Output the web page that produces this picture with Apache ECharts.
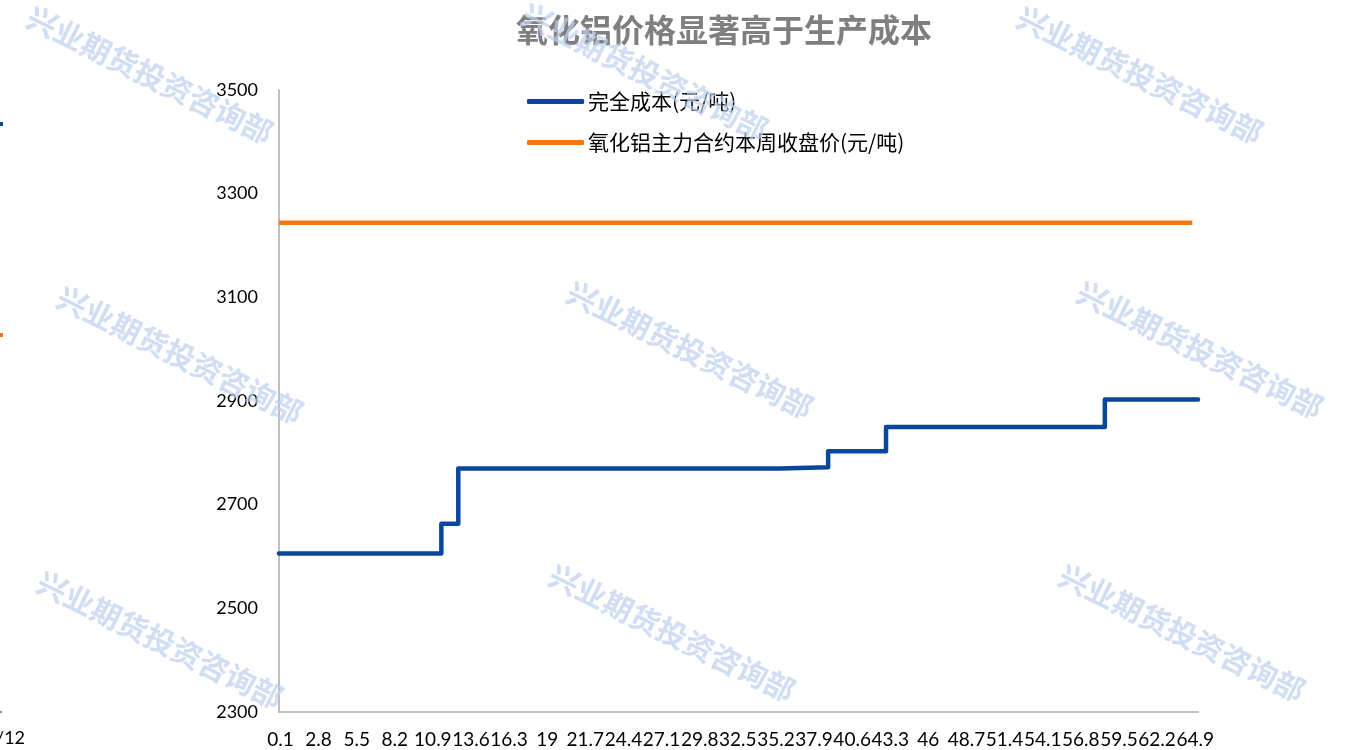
<!DOCTYPE html>
<html>
<head>
<meta charset="utf-8">
<script src="https://cdn.jsdelivr.net/npm/echarts@6/dist/echarts.min.js"></script>
<style>
html,body{margin:0;padding:0;background:#fff;}
#c{width:1347px;height:750px;}
</style>
</head>
<body>
<div id="c"></div>
<script>
// Data
const titleText = '氧化铝价格显著高于生产成本';
const seriesNames = ['完全成本(元/吨)', '氧化铝主力合约本周收盘价(元/吨)'];
// cumulative capacity (x) where each cost step starts
const costX = [0, 11.5, 12.7, 35.5, 38.9, 43.0, 58.5, 65.1];
const costY = [2606, 2663, 2770, 2772, 2803, 2850, 2903, 2903];
const priceX = [0, 64.7];
const priceY = [3244, 3244];
const xTickLabels = [0.1, 2.8, 5.5, 8.2, 10.9, 13.6, 16.3, 19, 21.7, 24.4, 27.1, 29.8, 32.5, 35.2, 37.9, 40.6, 43.3, 46, 48.7, 51.4, 54.1, 56.8, 59.5, 62.2, 64.9];
const yTicks = [2300, 2500, 2700, 2900, 3100, 3300, 3500];
const watermark = '兴业期货投资咨询部';

const chart = echarts.init(document.getElementById('c'));
const labelFont = 'Lato, "Noto Sans CJK SC", sans-serif';
const cjkFont = '"Noto Sans CJK SC", sans-serif';

const wmPos = [[150,75],[645,72],[1140,75],[180,355],[690,350],[1200,350],[160,640],[672,633],[1182,633]];
const graphics = wmPos.map(p => ({
  type: 'text', x: p[0], y: p[1], rotation: -0.46, z: 100, silent: true,
  style: { text: watermark, font: 'bold 30px "Noto Sans CJK SC", sans-serif', fill: 'rgba(190,206,236,0.7)', align: 'center', verticalAlign: 'middle' }
}));
graphics.push(
  { type: 'rect', shape: { x: 0, y: 122, width: 3, height: 4 }, style: { fill: '#0b469d' } },
  { type: 'rect', shape: { x: 0, y: 333, width: 3, height: 4 }, style: { fill: '#ee7716' } },
  { type: 'rect', shape: { x: 0, y: 711, width: 2, height: 2 }, style: { fill: '#999' } },
  { type: 'text', x: -4, y: 738, style: { text: '/12', font: '18px ' + labelFont, fill: '#000', verticalAlign: 'middle' } }
);

const option = {
  backgroundColor: '#fff',
  animation: false,
  title: {
    text: titleText, left: 719, top: 9, textAlign: 'center',
    textStyle: { color: '#7f7f7f', fontSize: 32, fontWeight: 'bold', fontFamily: cjkFont }
  },
  legend: {
    orient: 'vertical', left: 522, top: 86, itemWidth: 57, itemHeight: 5, itemGap: 20,
    icon: 'roundRect',
    textStyle: { fontSize: 21, color: '#000', fontFamily: cjkFont, padding: [0,0,0,-1] },
    data: seriesNames
  },
  grid: { left: 279, top: 90, right: 149, bottom: 38 },
  xAxis: {
    type: 'value', min: 0, max: 65.1,
    axisLine: { show: true, lineStyle: { color: '#bfbfbf', width: 2 } },
    axisTick: { show: false },
    splitLine: { show: false },
    axisLabel: {
      customValues: xTickLabels, margin: 18, color: '#000', fontSize: 19, fontFamily: labelFont,
      formatter: v => String(v), hideOverlap: false
    }
  },
  yAxis: {
    type: 'value', min: yTicks[0], max: yTicks[yTicks.length-1], interval: 200,
    axisLine: { show: true, lineStyle: { color: '#bfbfbf', width: 2 } },
    axisTick: { show: false },
    splitLine: { show: false },
    axisLabel: { margin: 21, color: '#000', fontSize: 18, fontFamily: labelFont, formatter: v => String(v) }
  },
  series: [
    {
      name: seriesNames[0], type: 'line', step: 'end', symbol: 'none',
      data: costX.map((x, i) => [x, costY[i]]),
      lineStyle: { color: '#0b469d', width: 4.5, cap: 'round', join: 'round' },
      itemStyle: { color: '#0b469d' }
    },
    {
      name: seriesNames[1], type: 'line', symbol: 'none',
      data: priceX.map((x, i) => [x, priceY[i]]),
      lineStyle: { color: '#ee7716', width: 4.5 },
      itemStyle: { color: '#ee7716' }
    }
  ],
  graphic: graphics
};
chart.setOption(option);
</script>
</body>
</html>
